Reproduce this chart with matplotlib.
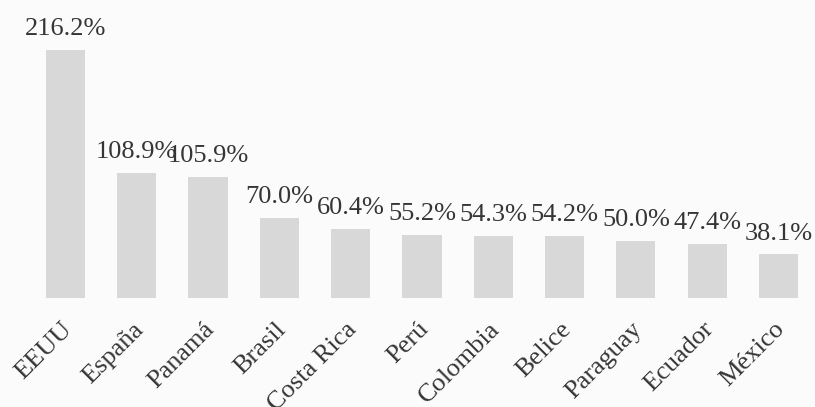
import matplotlib
matplotlib.use('Agg')
import matplotlib.pyplot as plt
from matplotlib.transforms import ScaledTranslation

# Datos del gráfico
paises = ['EEUU', 'España', 'Panamá', 'Brasil', 'Costa Rica', 'Perú',
          'Colombia', 'Belice', 'Paraguay', 'Ecuador', 'México']
valores = [216.2, 108.9, 105.9, 70.0, 60.4, 55.2, 54.3, 54.2, 50.0, 47.4, 38.1]

plt.rcParams['font.family'] = ['Liberation Serif', 'DejaVu Serif']
text_color = '#353535'
bar_color = '#d8d8d8'
fondo = '#fbfbfb'

fig = plt.figure(figsize=(8.15, 4.07), dpi=100, facecolor=fondo)
ax = fig.add_axes([0.0366, 0.2678, 0.9623, 0.7047])
ax.set_facecolor(fondo)

x = range(len(paises))
bars = ax.bar(x, valores, width=0.55, color=bar_color, edgecolor='none')

# Etiquetas de porcentaje sobre las barras
ax.bar_label(bars, labels=[f'{v:.1f}%' for v in valores], padding=7,
             fontsize=19, color=text_color)

ax.set_xlim(-0.5, len(paises) - 0.5)
ax.set_ylim(0, 250)

ax.set_xticks(list(x))
ax.set_xticklabels(paises, rotation=45, ha='right', va='center',
                   rotation_mode='anchor', fontsize=19, color=text_color)
ax.tick_params(axis='x', length=0, pad=0)
ax.set_yticks([])
for s in ax.spines.values():
    s.set_visible(False)

# Desplazar etiquetas del eje x
offset = ScaledTranslation(3 / 100, -28 / 100, fig.dpi_scale_trans)
for lbl in ax.get_xticklabels():
    lbl.set_transform(lbl.get_transform() + offset)

fig.savefig('out.png', dpi=100, facecolor=fondo)
